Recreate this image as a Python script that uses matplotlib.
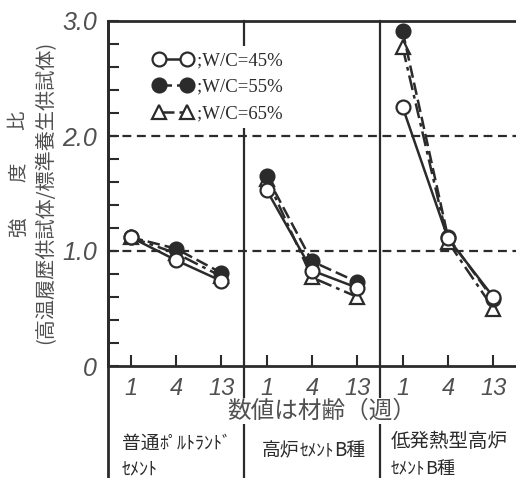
import matplotlib.pyplot as plt
import numpy as np

plt.rcParams['font.family'] = ['Noto Sans CJK JP', 'DejaVu Sans']

W, H = 516, 478
ages = ['1', '4', '13']
# strength ratio per cement type (normal portland, blast furnace B, low-heat blast furnace B)
wc45 = [[1.12, 0.92, 0.74], [1.53, 0.83, 0.68], [2.25, 1.11, 0.60]]
wc55 = [[1.12, 1.02, 0.81], [1.65, 0.91, 0.73], [2.91, 1.12, 0.58]]
wc65 = [[1.12, 0.98, 0.78], [1.63, 0.77, 0.60], [2.77, 1.08, 0.50]]
labels = [';W/C=45%', ';W/C=55%', ';W/C=65%']

ink = '#2b2b2b'
gray = '#505050'

fig = plt.figure(figsize=(W / 100, H / 100), dpi=100)
ax = fig.add_axes([108 / W, 112 / H, 408 / W, 345 / H])

styles = [
    (wc65, '^', 'white', (0, (6, 2, 1.5, 2)), labels[2]),
    (wc55, 'o', ink, (0, (5, 2)), labels[1]),
    (wc45, 'o', 'white', '-', labels[0]),
]
handles = {}
for vals, mk, fc, ls, lab in styles:
    for p in range(3):
        x = 3 * p + np.arange(3)
        ln, = ax.plot(x, vals[p], color=ink, lw=1.8, ls=ls, marker=mk, ms=10,
                      mfc=fc, mec=ink, mew=1.6, clip_on=False, zorder=3)
    handles[lab] = ln

ax.set_xlim(-0.5, 8.5)
ax.set_ylim(0, 3.0)
ax.set_xticks(np.arange(9))
ax.set_xticklabels(ages * 3, fontsize=17, style='italic', color=gray,
                   family='Liberation Sans')
ax.set_yticks([0, 1, 2, 3])
ax.set_yticklabels(['0', '1.0', '2.0', '3.0'], fontsize=18, style='italic',
                   color=gray, family='Liberation Sans')
ax.set_yticks(np.arange(0, 3.01, 0.2), minor=True)
ax.tick_params(axis='both', which='both', direction='in', length=8, width=1.5,
               color=ink)
ax.tick_params(axis='x', pad=8)
ax.tick_params(axis='y', pad=8)
ax.spines['right'].set_visible(False)
for s in ['left', 'top', 'bottom']:
    ax.spines[s].set_linewidth(2)
    ax.spines[s].set_color(ink)

for yv in [1.0, 2.0]:
    ax.axhline(yv, color=ink, lw=1.6, ls=(0, (4, 2.5)), zorder=1)
for xv in [-0.5, 2.5, 5.5]:
    ax.axvline(xv, ymin=-0.33, ymax=1, color=ink, lw=1.6 if xv > 0 else 2,
               clip_on=False, zorder=2)

leg = ax.legend([handles[l] for l in labels], labels, loc='upper left',
                bbox_to_anchor=(138 / W, 1 - 37 / H), bbox_transform=fig.transFigure,
                numpoints=2, handlelength=2.1, handletextpad=0.25, labelspacing=0.5,
                borderpad=0.3, prop={'family': 'Liberation Serif', 'size': 13.5},
                frameon=True, framealpha=1, facecolor='white', edgecolor='none')
leg.set_zorder(5)
for t in leg.get_texts():
    t.set_color(ink)

# y label, two vertical columns
for ch, py in [('強', 227), ('度', 172), ('比', 120)]:
    fig.text(18 / W, 1 - py / H, ch, rotation=90, fontsize=14, color=gray,
             ha='center', va='center')
fig.text(46 / W, 1 - 192 / H, '(高温履歴供試体/標準養生供試体)', rotation=90,
         fontsize=14.5, color=gray, ha='center', va='center')

fig.text(322 / W, 1 - 411 / H, '数値は材齢（週）', fontsize=17, color=gray,
         ha='center', va='center',
         bbox=dict(facecolor='white', edgecolor='none', pad=1))

r = fig.canvas.get_renderer()


def chain(px, py, parts):
    x = px / W
    for s, size in parts:
        t = fig.text(x, 1 - py / H, s, fontsize=size, color=ink, va='baseline')
        x = t.get_window_extent(r).x1 / W


chain(122, 449, [('普通', 13.5), ('ﾎﾟﾙﾄﾗﾝﾄﾞ', 13)])
chain(122, 474, [('ｾﾒﾝﾄ', 13)])
chain(262, 456, [('高炉', 13.5), ('ｾﾒﾝﾄ', 12.5), ('B種', 13.5)])
chain(391, 447, [('低発熱型高炉', 14)])
chain(391, 474, [('ｾﾒﾝﾄ', 12.5), ('B種', 13)])

fig.savefig('out.png', dpi=100, facecolor='white')
